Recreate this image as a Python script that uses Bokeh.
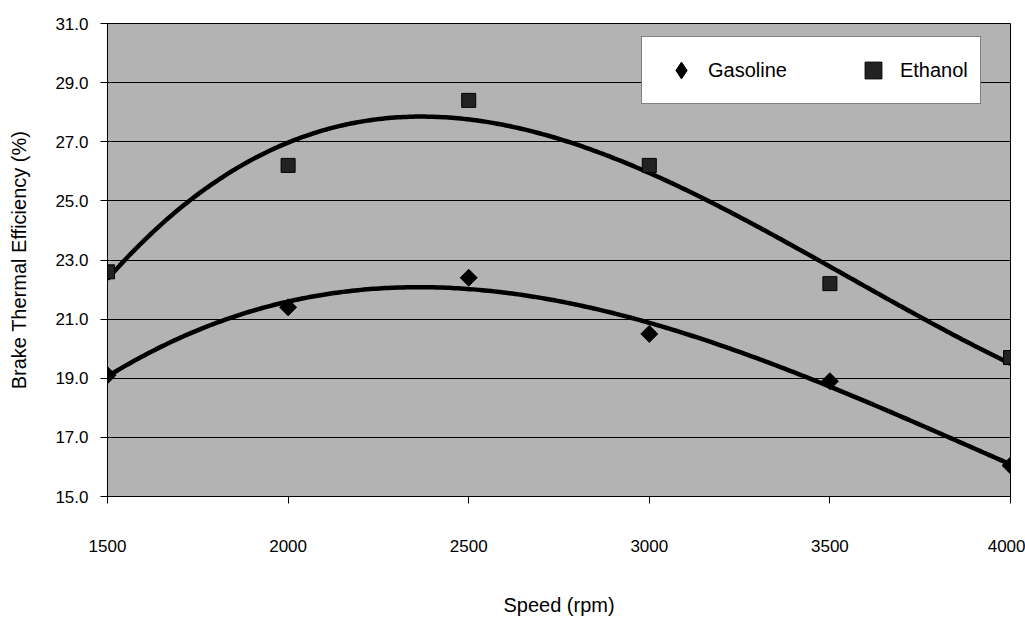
import numpy as np
from bokeh.plotting import figure
from bokeh.models import FixedTicker, PrintfTickFormatter, Legend, LegendItem, Range1d, ColumnDataSource
from bokeh.embed import file_html
from bokeh.resources import INLINE

# ---- data ----
speed = [1500, 2000, 2500, 3000, 3500, 4000]
gasoline = [19.1, 21.4, 22.4, 20.5, 18.9, 16.05]
ethanol = [22.6, 26.2, 28.4, 26.2, 22.2, 19.7]
y_ticks = [15, 17, 19, 21, 23, 25, 27, 29, 31]
x_ticks = [1500, 2000, 2500, 3000, 3500, 4000]
series_names = ["Gasoline", "Ethanol"]

FONT = "Liberation Sans"

p = figure(width=1025, height=621,
           x_range=Range1d(1500, 4000), y_range=Range1d(15, 31),
           output_backend="svg", toolbar_location=None,
           min_border_left=107, min_border_right=15,
           min_border_top=23, min_border_bottom=125)

p.background_fill_color = "#b3b3b3"
p.border_fill_color = "white"
p.outline_line_color = "black"
p.outline_line_width = 1

# grids
p.xgrid.visible = False
p.ygrid.ticker = FixedTicker(ticks=y_ticks)
p.ygrid.grid_line_color = "black"
p.ygrid.grid_line_width = 1

# axes
p.xaxis.ticker = FixedTicker(ticks=x_ticks)
p.yaxis.ticker = FixedTicker(ticks=y_ticks)
p.yaxis.formatter = PrintfTickFormatter(format="%.1f")
for ax in (p.xaxis[0], p.yaxis[0]):
    ax.axis_line_color = "black"
    ax.major_tick_line_color = "black"
    ax.major_tick_in = 0
    ax.major_tick_out = 7
    ax.minor_tick_line_color = None
    ax.major_label_text_font = FONT
    ax.major_label_text_font_size = "17px"
    ax.major_label_text_color = "black"
    ax.axis_label_text_font = FONT
    ax.axis_label_text_font_size = "20px"
    ax.axis_label_text_font_style = "normal"
    ax.axis_label_text_color = "black"

p.xaxis.axis_label = "Speed (rpm)"
p.xaxis.major_label_standoff = 36
p.xaxis.axis_label_standoff = 39
p.yaxis.axis_label = "Brake Thermal Efficiency (%)"
p.yaxis.major_label_standoff = 12
p.yaxis.axis_label_standoff = 22

# polynomial trend lines (order 3) fitted to the data
xs = np.linspace(min(speed), max(speed), 300)
g_fit = np.polyval(np.polyfit(speed, gasoline, 3), xs)
e_fit = np.polyval(np.polyfit(speed, ethanol, 3), xs)
p.line(xs, e_fit, line_color="black", line_width=4.5)
p.line(xs, g_fit, line_color="black", line_width=4.5)

src = ColumnDataSource(dict(speed=speed, gasoline=gasoline, ethanol=ethanol))
r_g = p.scatter("speed", "gasoline", source=src, marker="square", angle=np.pi / 4,
                size=12, fill_color="black", line_color="black")
r_e = p.scatter("speed", "ethanol", source=src, marker="square",
                size=14, fill_color="#222222", line_color="black")
# legend swatch for the diamond series (legend glyphs ignore marker angle)
r_g_key = p.scatter("speed", "gasoline", source=src, marker="diamond",
                    fill_color="black", line_color="black", visible=False)

legend = Legend(items=[LegendItem(label=series_names[0], renderers=[r_g_key]),
                       LegendItem(label=series_names[1], renderers=[r_e])],
                orientation="horizontal", location=(534, 392), margin=0,
                padding=12, spacing=59, glyph_width=54, glyph_height=42,
                label_standoff=0, label_text_font=FONT, label_text_font_size="20px",
                label_text_color="black",
                background_fill_color="white", background_fill_alpha=1.0,
                border_line_color="black", border_line_width=1)
p.add_layout(legend, "center")

open("out.html", "w").write(file_html(p, INLINE))
